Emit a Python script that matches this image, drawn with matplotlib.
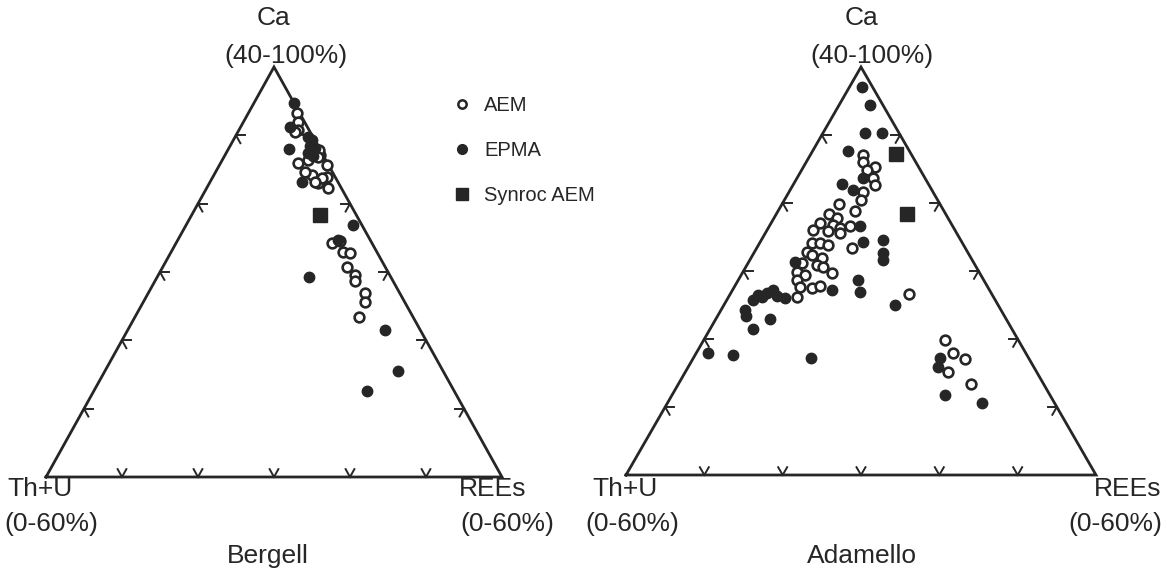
import numpy as np
import matplotlib
matplotlib.use("Agg")
import matplotlib.pyplot as plt
from matplotlib.lines import Line2D

plt.rcParams['font.family'] = ['Liberation Sans', 'DejaVu Sans']

# ---------------- data (Ca %, Th+U %, REEs %) ----------------
# Bergell
berg_aem_ca  = [93.3, 92.0, 90.8, 90.5, 86.0, 86.4, 87.1, 85.7, 84.2, 83.0, 83.9, 82.3, 83.8, 84.6,
                83.2, 87.8, 86.8, 74.2, 74.5, 72.9, 72.8, 70.7, 69.6, 68.7, 66.9, 65.6, 63.4]
berg_aem_thu = [0.3, 0.8, 1.4, 2.0, 3.9, 2.3, 0.4, 0.2, 2.9, 2.7, 1.1, 1.7, 1.8, 3.6,
                3.0, 0.2, 0.8, 5.3, 4.1, 4.5, 3.6, 5.1, 4.5, 5.0, 4.6, 5.2, 7.1]
berg_aem_ree = [6.4, 7.2, 7.8, 7.5, 10.1, 11.3, 12.5, 14.1, 12.9, 14.3, 15.0, 16.0, 14.4, 11.8,
                13.8, 12.0, 12.4, 20.5, 21.4, 22.6, 23.6, 24.2, 25.9, 26.3, 28.5, 29.2, 29.5]

berg_epma_ca  = [94.8, 91.2, 88.0, 89.8, 89.3, 88.4, 88.1, 87.4, 87.0, 83.2, 76.9, 74.7, 69.3, 61.5, 55.5, 52.6]
berg_epma_thu = [0.0, 2.3, 4.0, 0.6, 0.4, 1.1, 0.6, 1.8, 1.4, 4.7, 1.1, 4.2, 10.7, 4.6, 5.9, 11.5]
berg_epma_ree = [5.2, 6.5, 8.0, 9.6, 10.3, 10.5, 11.3, 10.8, 11.6, 12.1, 22.0, 21.1, 20.0, 33.9, 38.6, 35.9]

berg_syn_ca  = [78.3]
berg_syn_thu = [4.8]
berg_syn_ree = [16.9]

# Adamello
adam_aem_ca  = [87.1, 86.0, 85.3, 84.9, 83.7, 82.6, 81.6, 80.4, 79.9, 78.8, 78.4, 77.8, 77.1, 76.8,
                76.3, 76.6, 76.0, 75.9, 75.6, 73.4, 74.1, 74.1, 73.8, 72.8, 72.4, 71.9, 70.9, 70.6,
                71.2, 69.9, 69.4, 69.7, 68.7, 67.6, 67.5, 67.8, 66.2, 66.6, 59.9, 57.9, 57.1, 55.1, 53.4]
adam_aem_thu = [6.2, 6.8, 5.6, 6.8, 6.6, 6.9, 8.9, 9.8, 12.8, 11.4, 14.9, 14.2, 16.7, 15.2,
                14.5, 13.1, 18.1, 16.3, 14.9, 14.4, 19.2, 18.2, 17.3, 20.5, 20.0, 19.0, 20.2, 19.5,
                21.9, 23.2, 22.5, 18.9, 23.8, 24.0, 22.5, 21.3, 25.1, 10.6, 9.3, 9.3, 8.2, 11.4, 9.3]
adam_aem_ree = [6.7, 7.2, 9.1, 8.3, 9.7, 10.5, 9.5, 9.8, 7.3, 9.8, 6.7, 8.0, 6.2, 8.0,
                9.2, 10.3, 5.9, 7.8, 9.5, 12.2, 6.7, 7.7, 8.9, 6.7, 7.6, 9.1, 8.9, 9.9,
                6.9, 6.9, 8.1, 11.4, 7.5, 8.4, 10.0, 10.9, 8.7, 22.8, 30.8, 32.8, 34.7, 33.5, 37.3]

adam_epma_ca  = [97.1, 94.4, 90.3, 90.3, 87.6, 83.7, 82.8, 81.9, 76.6, 74.3, 74.6, 72.6, 71.6, 68.7,
                 66.9, 67.2, 71.3, 66.0, 67.2, 66.8, 66.5, 65.7, 66.2, 66.3, 64.3, 63.4, 62.9, 61.5,
                 57.9, 57.6, 57.2, 65.0, 51.8, 50.6, 57.2, 55.9]
adam_epma_thu = [1.3, 1.7, 4.3, 2.2, 7.8, 7.9, 11.0, 10.1, 11.8, 12.6, 9.9, 10.9, 11.4, 16.0,
                 16.7, 20.1, 22.8, 26.7, 27.6, 28.6, 29.9, 31.0, 29.5, 27.6, 32.6, 33.0, 30.2, 33.1,
                 40.6, 37.6, 27.8, 13.2, 13.4, 9.2, 11.3, 12.2]
adam_epma_ree = [1.6, 3.9, 5.4, 7.5, 4.6, 8.4, 6.2, 8.0, 11.6, 13.1, 15.5, 16.5, 17.0, 15.3,
                 16.4, 12.7, 5.9, 7.3, 5.2, 4.6, 3.6, 3.3, 4.3, 6.1, 3.1, 3.6, 6.9, 5.4,
                 1.5, 4.8, 15.0, 21.8, 34.8, 40.2, 31.5, 31.9]

adam_syn_ca  = [87.2, 78.4]
adam_syn_thu = [1.9, 4.9]
adam_syn_ree = [10.9, 16.7]

tick_fractions = [1/6, 2/6, 3/6, 4/6, 5/6]

# ---------------- layout ----------------
FW, FH = 1167, 576
INK = '#262626'
fig = plt.figure(figsize=(FW/100, FH/100), dpi=100)


def project(ca, thu, ree):
    ca = np.asarray(ca, float); thu = np.asarray(thu, float); ree = np.asarray(ree, float)
    a = (ca - 40.0); b = thu; c = ree
    s = a + b + c
    a, c = a / s, c / s
    return c + a / 2.0, a


def make_triangle(x0, ybot, w, h):
    ax = fig.add_axes([x0/FW, 1 - ybot/FH, w/FW, h/FH])
    ax.set_xlim(0, 1); ax.set_ylim(0, 1)
    ax.axis('off')
    ax.plot([0, 1, 0.5, 0], [0, 0, 1, 0], color=INK, lw=2.0, solid_joinstyle='miter',
            clip_on=False)
    L = 9.0
    el = np.hypot(w/2, h)
    dl = np.array([(w/2)/el*L/w, h/el*L/h])     # direction of left edge (up-right)
    dr = np.array([-(w/2)/el*L/w, h/el*L/h])    # direction of right edge reversed (up-left)
    dh = np.array([L/w, 0.0])                   # horizontal
    for f in tick_fractions:
        p = np.array([f, 0.0])
        for d in (dl, dr):
            ax.plot([p[0], p[0]+d[0]], [p[1], p[1]+d[1]], color=INK, lw=1.4, clip_on=False)
        p = np.array([f/2, f])
        for d in (dh, -dr):
            ax.plot([p[0], p[0]+d[0]], [p[1], p[1]+d[1]], color=INK, lw=1.4, clip_on=False)
        p = np.array([1 - f/2, f])
        for d in (-dh, -dl):
            ax.plot([p[0], p[0]+d[0]], [p[1], p[1]+d[1]], color=INK, lw=1.4, clip_on=False)
    return ax


def scatter_sets(ax, aem, epma, syn):
    x, y = project(*aem)
    ax.plot(x, y, 'o', ms=7, mfc='white', mec=INK, mew=1.9, ls='none', clip_on=False)
    x, y = project(*epma)
    ax.plot(x, y, 'o', ms=7.5, mfc=INK, mec=INK, mew=1.0, ls='none', clip_on=False)
    x, y = project(*syn)
    ax.plot(x, y, 's', ms=10, mfc=INK, mec=INK, ls='none', clip_on=False)


axL = make_triangle(46, 477, 456, 410)
scatter_sets(axL, (berg_aem_ca, berg_aem_thu, berg_aem_ree),
             (berg_epma_ca, berg_epma_thu, berg_epma_ree),
             (berg_syn_ca, berg_syn_thu, berg_syn_ree))
axR = make_triangle(626, 475, 470, 408)
scatter_sets(axR, (adam_aem_ca, adam_aem_thu, adam_aem_ree),
             (adam_epma_ca, adam_epma_thu, adam_epma_ree),
             (adam_syn_ca, adam_syn_thu, adam_syn_ree))


def ptext(x, y, s, size=19, ha='center'):
    fig.text(x/FW, 1 - y/FH, s, ha=ha, va='center', fontsize=size, color=INK)

ptext(274, 18, 'Ca'); ptext(286, 56, '(40-100%)')
ptext(862, 18, 'Ca'); ptext(872, 56, '(40-100%)')
ptext(40, 489, 'Th+U'); ptext(51, 524, '(0-60%)')
ptext(493, 489, 'REEs'); ptext(507, 524, '(0-60%)')
ptext(268, 556, 'Bergell')
ptext(625, 489, 'Th+U'); ptext(632, 524, '(0-60%)')
ptext(1128, 489, 'REEs'); ptext(1115, 524, '(0-60%)')
ptext(862, 556, 'Adamello')

handles = [Line2D([], [], marker='o', ls='none', ms=6, mfc='white', mec=INK, mew=1.8),
           Line2D([], [], marker='o', ls='none', ms=7, mfc=INK, mec=INK),
           Line2D([], [], marker='s', ls='none', ms=9, mfc=INK, mec=INK)]
fig.legend(handles, ['AEM', 'EPMA', 'Synroc AEM'], loc='upper left',
           bbox_to_anchor=(442/FW, 1 - 86/FH), frameon=False, fontsize=14.5,
           labelspacing=1.3, handletextpad=0.6, handlelength=1.0, borderpad=0,
           labelcolor=INK)

fig.savefig('out.png', dpi=100)
